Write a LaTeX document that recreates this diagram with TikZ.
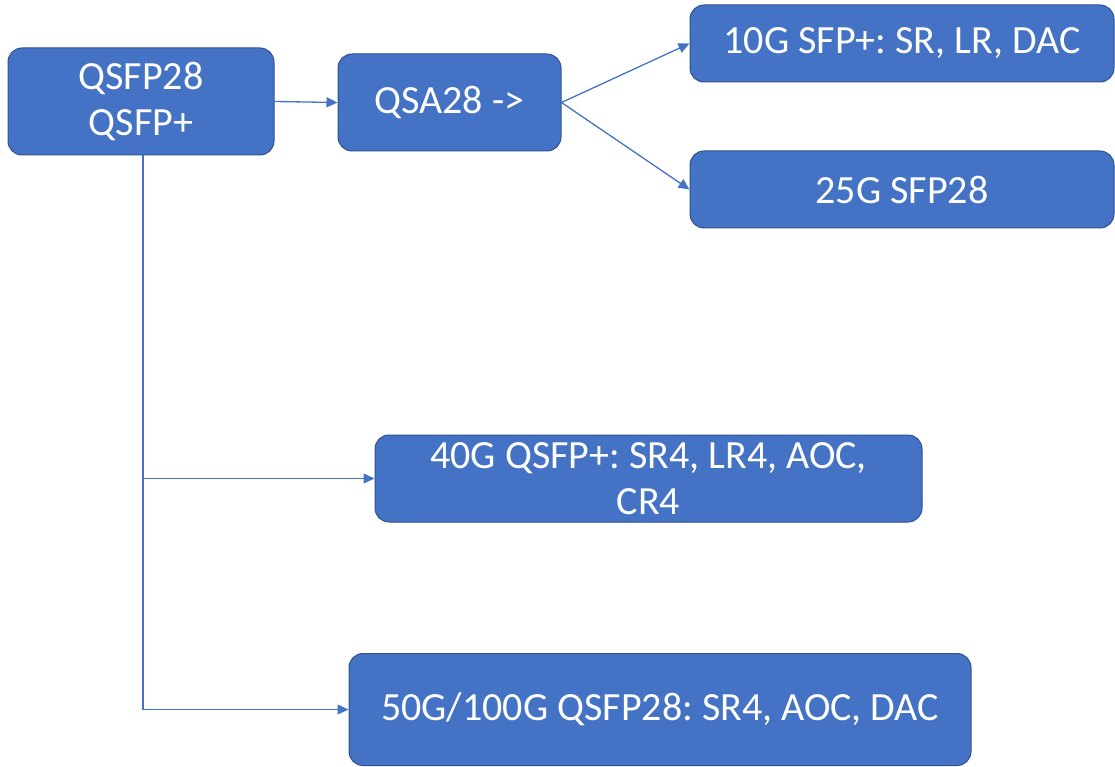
\documentclass[tikz,border=0pt]{standalone}
\usepackage{fontspec}
\setmainfont{Carlito}
\usetikzlibrary{arrows.meta, positioning}
\definecolor{boxBlue}{HTML}{4472C4}
\definecolor{boxEdge}{HTML}{2F528F}
\tikzset{
  box/.style  = {draw=boxEdge, fill=boxBlue, line width=1pt, rounded corners=14pt,
                 text=white, align=center, inner sep=2pt,
                 font=\fontsize{40}{46}\selectfont\frenchspacing},
  link/.style = {-{Triangle[length=11pt, width=10pt]}, boxBlue, line width=1.3pt},
}

\begin{document}
\begin{tikzpicture}[x=1pt,y=-1pt]
  \useasboundingbox (0,0) rectangle (1115,767);
  \node[box, minimum width=266pt, minimum height=107pt] (qsfp) at (141,101.5) {QSFP28\\QSFP+};
  \node[box, minimum width=223pt, minimum height=97pt] (qsa) at (449.5,102.5) {QSA28 ->};
  \node[box, minimum width=424pt, minimum height=77pt] (sfpten) at (902,43.5) {10G SFP+: SR, LR, DAC};
  \node[box, minimum width=424pt, minimum height=77pt] (sfptwentyfive) at (902,189.5) {25G SFP28};
  \node[box, minimum width=547pt, minimum height=87pt] (qsfpforty) at (648.5,478.5) {40G QSFP+: SR4, LR4, AOC,\\CR4};
  \node[box, minimum width=622pt, minimum height=112pt] (qsfphundred) at (660,709.5) {50G/100G QSFP28: SR4, AOC, DAC};
  \coordinate (trunk) at ([xshift=2pt]qsfp.south);
  % adapter branch
  \draw[link] (qsfp.east) -- (qsa.west);
  \draw[link] (qsa.east) -- (sfpten.west);
  \draw[link] (qsa.east) -- (sfptwentyfive.west);
  % native branch
  \draw[link] (trunk) |- (qsfphundred.west);
  \draw[link] (trunk |- qsfpforty.west) -- (qsfpforty.west);
\end{tikzpicture}
\end{document}
